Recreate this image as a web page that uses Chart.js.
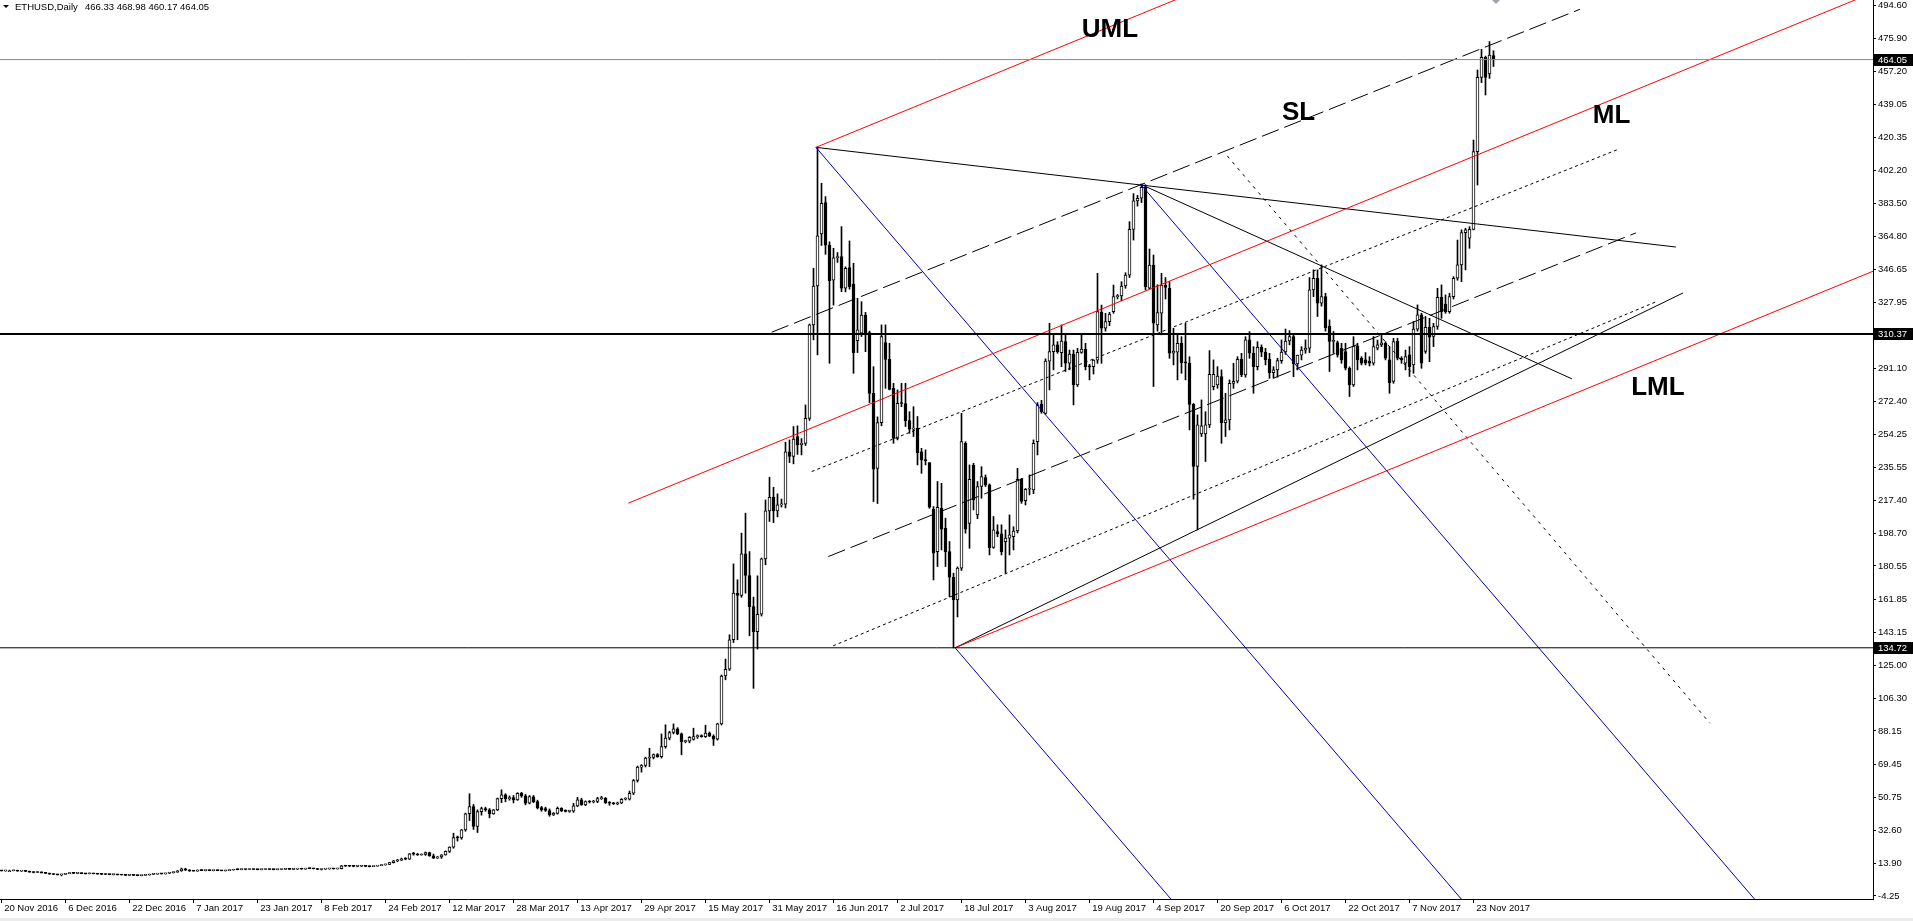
<!DOCTYPE html>
<html lang="en">
<head>
<meta charset="UTF-8">
<title>ETHUSD,Daily</title>
<script src="https://cdn.jsdelivr.net/npm/chart.js@4.4.3/dist/chart.umd.min.js"></script>
<style>
    * { margin: 0; padding: 0; }
    body { background: #fff; width: 1913px; height: 921px; overflow: hidden; }
    canvas { display: block; }
</style>
</head>
<body>
<canvas id="ethChart" width="1913" height="921"></canvas>
<script>
// daily candles [open, high, low, close], bar 0 = 20 Nov 2016
const nov16 = [[9.9,10.1,9.7,9.8],[9.8,10.0,9.6,9.9],[9.9,10.2,9.7,9.9],[9.9,10.3,9.8,10.0],[10.0,10.2,9.6,9.7],[9.7,10.0,9.5,9.8],[9.8,9.9,9.4,9.5],[9.5,9.7,9.0,9.1],[9.1,9.3,8.7,8.9],[8.9,9.4,8.8,9.2],[9.2,9.3,8.6,8.7]];
const dec16 = [[8.7,8.9,8.3,8.4],[8.4,8.6,7.9,8.0],[8.0,8.2,7.7,7.8],[7.8,8.0,7.5,7.6],[7.6,8.0,7.0,7.9],[7.9,8.4,7.8,8.3],[8.3,8.8,8.2,8.6],[8.6,8.8,8.3,8.4],[8.4,8.6,8.2,8.5],[8.5,8.7,8.2,8.3],[8.3,8.5,8.0,8.2],[8.2,8.6,8.1,8.4],[8.4,8.5,8.1,8.2],[8.2,8.3,7.9,8.0],[8.0,8.2,7.8,7.9],[7.9,8.1,7.7,7.8],[7.8,8.0,7.6,7.7],[7.7,7.9,7.5,7.8],[7.8,7.9,7.5,7.6],[7.6,7.8,7.4,7.5],[7.5,7.7,7.2,7.3],[7.3,7.6,7.1,7.4],[7.4,7.6,7.2,7.3],[7.3,7.5,7.1,7.2],[7.2,7.4,7.0,7.3],[7.3,7.6,7.2,7.5],[7.5,8.0,7.4,7.9],[7.9,8.2,7.7,8.0],[8.0,8.3,7.9,8.2],[8.2,8.4,8.0,8.1],[8.1,8.6,8.0,8.5]];
const jan17 = [[8.5,8.9,8.3,8.8],[8.8,9.2,8.6,9.1],[9.1,10.0,9.0,9.8],[9.8,11.4,9.6,10.9],[10.9,11.3,9.9,10.3],[10.3,10.5,9.5,9.8],[9.8,10.1,9.6,9.7],[9.7,10.4,9.6,10.3],[10.3,10.6,9.9,10.0],[10.0,10.3,9.8,10.2],[10.2,10.4,9.9,10.0],[10.0,10.2,9.8,10.1],[10.1,10.3,9.9,10.0],[10.0,10.2,9.8,9.9],[9.9,10.1,9.7,10.0],[10.0,10.4,9.9,10.3],[10.3,10.7,10.2,10.6],[10.6,10.8,10.4,10.5],[10.5,10.9,10.4,10.7],[10.7,10.8,10.4,10.6],[10.6,10.8,10.5,10.7],[10.7,10.9,10.5,10.6],[10.6,10.7,10.4,10.5],[10.5,10.7,10.4,10.6],[10.6,10.8,10.5,10.7],[10.7,10.9,10.5,10.6],[10.6,10.8,10.4,10.5],[10.5,10.7,10.4,10.6],[10.6,10.8,10.5,10.7],[10.7,10.9,10.6,10.8],[10.8,11.0,10.6,10.7]];
const feb17 = [[10.7,10.9,10.5,10.8],[10.8,11.0,10.6,10.9],[10.9,11.1,10.7,10.8],[10.8,11.3,10.7,11.2],[11.2,11.4,11.0,11.1],[11.1,11.3,10.9,11.0],[11.0,11.2,10.5,10.6],[10.6,10.9,10.3,10.8],[10.8,11.0,10.6,10.9],[10.9,11.1,10.7,11.0],[11.0,11.2,10.8,10.9],[10.9,11.1,10.8,11.0],[11.0,12.9,10.9,12.7],[12.7,12.9,12.3,12.5],[12.5,12.7,12.2,12.4],[12.4,12.6,12.1,12.3],[12.3,12.5,12.1,12.4],[12.4,12.6,12.2,12.5],[12.5,12.7,12.2,12.3],[12.3,12.5,12.0,12.2],[12.2,12.6,12.1,12.5],[12.5,12.9,12.4,12.8],[12.8,13.3,12.7,13.2],[13.2,13.6,13.0,13.4],[13.4,14.6,13.3,14.4],[14.4,15.6,14.2,15.5],[15.5,16.2,14.9,15.8],[15.8,17.0,15.6,16.6]];
const mar17 = [[16.6,17.2,16.0,16.4],[16.4,19.5,16.2,19.3],[19.3,20.2,18.6,19.2],[19.2,19.6,18.5,18.7],[18.7,19.3,18.6,19.0],[19.0,20.4,18.5,20.1],[20.1,20.3,18.0,18.2],[18.2,19.2,16.7,16.9],[16.9,18.0,16.8,17.6],[17.6,18.9,16.8,18.8],[18.8,21.0,18.6,20.7],[20.7,23.3,20.1,23.1],[23.1,30.9,22.5,28.5],[28.5,29.3,26.5,28.3],[28.3,33.0,27.5,32.8],[32.8,42.2,32.0,41.8],[41.8,53.0,38.0,45.8],[45.8,47.0,33.0,34.7],[34.7,44.0,31.3,43.0],[43.0,45.5,41.0,44.7],[44.7,45.5,43.2,43.9],[44.0,44.7,39.5,41.7],[41.7,44.2,41.5,44.0],[44.0,50.6,43.5,50.3],[50.3,55.2,48.0,52.4],[52.4,53.0,48.5,50.2],[50.2,51.8,49.4,50.9],[50.9,52.0,47.9,49.6],[49.6,53.6,49.3,53.3],[53.3,53.8,51.0,51.9],[51.9,52.6,46.8,47.7]];
const apr17 = [[47.7,52.0,47.3,51.4],[51.3,52.0,48.0,48.5],[48.6,49.4,44.5,45.0],[45.2,45.9,43.2,43.9],[44.7,45.5,43.1,43.6],[43.6,44.5,40.4,41.2],[41.2,42.5,40.8,42.0],[42.0,45.6,41.6,44.9],[44.9,45.2,43.0,43.4],[43.4,44.0,42.8,43.1],[43.1,43.8,42.6,43.2],[43.2,47.6,42.6,46.2],[46.2,51.0,45.8,49.6],[49.6,50.5,46.5,46.8],[46.8,49.0,46.3,48.6],[48.6,49.2,47.8,48.4],[48.4,49.3,47.9,48.7],[48.7,51.0,48.0,50.3],[50.3,51.6,49.8,50.5],[50.5,50.9,47.6,47.9],[47.9,48.6,46.5,47.7],[47.7,48.2,47.0,47.4],[47.4,48.3,46.8,47.8],[47.8,50.3,47.4,49.9],[49.9,50.8,49.5,50.0],[50.0,54.5,49.5,53.3],[53.3,61.0,52.5,60.4],[60.4,68.5,59.5,67.9],[67.9,69.3,65.1,68.8],[68.8,73.5,68.0,72.9]];
const may17 = [[73.0,78.5,68.2,73.4],[73.4,75.3,72.5,74.9],[74.9,75.5,73.4,73.7],[73.7,86.5,73.0,79.4],[79.4,91.6,78.5,84.1],[84.1,88.0,83.2,87.3],[87.3,92.1,86.5,89.3],[89.3,90.0,86.1,86.5],[86.5,87.0,74.8,82.2],[82.2,83.0,81.5,82.5],[82.5,85.0,81.5,84.6],[83.4,89.7,83.0,85.0],[85.0,86.0,84.0,85.2],[85.2,86.0,84.6,85.0],[85.0,91.4,84.5,87.0],[87.0,87.6,85.0,85.2],[85.2,86.0,80.0,83.5],[83.5,92.5,83.0,92.1],[92.1,119.5,91.5,118.9],[118.9,128.4,116.8,122.7],[122.7,142.0,122.0,139.2],[139.2,181.7,137.7,165.3],[165.3,172.8,139.2,164.0],[164.0,198.9,163.0,187.3],[187.3,210.1,165.3,175.2],[175.2,188.6,141.4,157.8],[157.8,163.1,112.0,143.8],[143.8,175.0,134.0,153.5],[153.5,185.0,152.5,184.5],[184.5,217.5,181.2,211.4],[211.4,230.2,205.4,219.0]];
const jun17 = [[219.0,224.6,204.8,211.4],[211.4,220.9,208.0,214.7],[214.7,218.0,213.5,215.1],[215.1,249.8,213.0,244.4],[244.4,251.1,238.4,241.8],[241.8,258.6,237.7,251.5],[253.0,259.0,243.0,248.3],[248.5,251.9,242.7,249.2],[249.2,270.7,248.0,263.2],[263.2,316.0,262.0,315.5],[315.5,347.2,307.1,337.3],[337.3,414.9,298.7,365.3],[366.4,394.8,360.0,383.6],[384.0,387.3,355.0,360.2],[360.2,362.0,294.0,340.3],[340.6,358.4,326.6,353.1],[353.1,356.0,350.5,353.7],[353.7,370.5,334.1,336.0],[336.0,348.0,334.0,347.2],[347.6,362.5,335.5,336.9],[338.4,350.0,288.4,300.0],[306.7,330.4,300.0,312.8],[310.8,328.5,309.0,321.0],[321.0,322.5,300.5,309.9],[311.2,312.0,272.0,277.2],[277.2,292.1,216.6,234.7],[235.2,264.0,215.5,260.8],[260.8,315.5,259.0,308.9],[305.6,315.5,280.0,296.2],[296.2,305.2,279.1,279.4]];
const jul17 = [[280.0,282.8,249.2,252.0],[252.0,279.1,251.1,271.6],[271.6,282.8,269.7,271.5],[271.5,282.8,258.6,261.9],[261.9,266.9,254.8,257.1],[257.1,269.7,253.0,257.6],[257.6,264.2,237.1,244.0],[244.5,246.4,232.4,239.9],[239.9,245.5,237.1,239.5],[238.4,238.4,212.8,213.4],[212.3,213.8,172.7,187.7],[188.6,227.8,180.2,213.4],[212.8,226.8,189.5,201.1],[201.6,207.3,180.2,188.6],[188.6,194.2,163.4,174.2],[174.2,176.5,134.7,161.5],[161.5,180.0,152.0,179.3],[179.3,266.0,178.0,250.2],[249.2,250.1,198.9,201.1],[204.4,237.1,190.4,229.1],[237.0,238.0,211.9,217.5],[209.1,227.8,207.0,225.0],[225.0,236.1,218.4,230.6],[230.0,231.5,225.0,225.9],[225.9,226.5,186.7,190.8],[190.9,208.2,190.4,200.7],[199.8,203.6,196.9,198.5],[198.5,203.6,186.7,188.6],[194.2,200.7,176.5,196.1],[196.1,209.1,186.7,197.9],[197.0,202.5,189.5,200.1]];
const aug17 = [[200.1,235.2,199.0,229.1],[229.1,229.6,215.6,216.6],[217.1,223.9,214.7,223.5],[223.5,231.5,220.3,224.0],[223.1,251.1,221.0,249.2],[250.1,272.0,242.7,270.7],[271.2,273.3,266.0,266.9],[266.0,296.5,265.5,295.3],[295.2,316.4,279.1,300.5],[300.5,309.9,290.3,304.3],[304.3,306.1,299.6,300.5],[299.9,315.5,292.1,306.5],[306.1,310.8,289.4,294.0],[294.0,301.4,290.3,299.2],[299.2,301.4,270.7,281.9],[281.9,302.4,281.0,300.1],[300.1,309.9,299.6,302.0],[301.8,305.2,290.3,292.1],[292.5,293.5,284.7,292.0],[292.1,296.0,288.0,295.8],[295.8,344.4,294.0,322.9],[322.5,326.6,294.0,313.6],[313.6,322.0,312.0,317.3],[317.3,322.5,315.0,321.6],[322.9,337.8,322.0,331.3],[331.3,332.5,330.0,331.7],[331.7,339.7,329.0,337.3],[337.3,344.7,336.0,343.4],[343.4,373.3,342.0,369.0],[369.0,389.0,363.0,384.9],[384.9,388.0,382.0,386.4]];
const sep17 = [[386.4,394.4,384.0,392.5],[392.5,394.0,335.0,336.9],[336.0,358.0,335.5,349.0],[349.0,354.6,281.0,316.4],[315.5,338.0,312.0,322.4],[322.0,344.4,309.9,337.8],[337.8,342.0,330.0,336.5],[336.0,339.7,296.8,299.6],[299.6,313.6,293.1,300.9],[300.2,310.8,284.7,305.2],[305.2,308.9,288.4,294.4],[294.4,316.4,284.7,294.2],[294.0,297.7,256.7,271.0],[271.0,271.5,217.9,236.2],[236.2,265.1,200.7,259.5],[254.5,273.5,253.0,259.0],[254.5,266.9,239.0,259.5],[259.5,301.1,258.0,287.8],[280.9,295.9,279.1,287.8],[281.9,292.1,280.0,286.9],[286.5,290.3,249.2,260.8],[260.8,277.2,253.0,262.3],[262.3,284.7,256.7,282.8],[282.8,294.0,280.0,283.9],[284.0,297.7,283.0,296.2],[296.2,299.6,286.5,287.5],[287.5,308.9,286.2,307.1],[307.1,311.7,296.8,299.6],[299.6,303.3,277.2,292.1],[292.1,306.1,290.3,302.9]];
const oct17 = [[302.9,304.3,297.7,300.2],[300.2,302.4,293.1,295.9],[296.2,299.6,285.6,288.8],[288.8,292.1,285.6,290.3],[290.3,296.8,286.2,295.5],[295.5,307.1,294.0,300.3],[300.3,313.2,299.0,306.5],[306.5,312.3,304.3,308.9],[308.9,309.9,286.5,293.6],[293.6,298.6,290.3,298.6],[298.6,303.3,295.9,301.4],[301.4,307.1,299.6,302.4],[302.4,342.0,300.0,335.1],[335.1,346.3,331.3,341.6],[341.6,346.3,320.2,327.6],[327.6,349.1,326.0,331.3],[331.3,333.2,312.0,314.0],[314.9,318.3,289.4,306.2],[306.2,311.8,299.6,306.8],[305.6,306.5,297.5,298.7],[302.4,305.2,294.0,295.9],[300.6,305.2,290.3,291.2],[291.2,292.0,275.4,281.9],[281.9,308.9,281.0,303.7],[303.7,305.2,290.3,295.9],[296.8,297.7,293.1,294.0],[296.0,300.0,293.1,294.0],[295.3,297.7,292.5,294.0],[294.0,309.0,293.0,303.4],[302.4,307.0,301.5,304.3],[304.3,309.9,303.3,305.5]];
const nov17 = [[305.2,306.1,295.9,296.8],[295.9,303.3,277.2,283.2],[283.8,308.0,282.8,306.2],[306.5,308.0,295.9,296.8],[296.8,297.7,294.0,295.9],[294.0,301.4,290.3,297.7],[298.7,303.3,286.6,292.1],[293.1,317.4,288.4,313.1],[313.1,326.7,312.0,321.1],[321.1,322.0,291.2,294.0],[300.6,320.2,299.6,314.2],[314.2,319.2,294.9,308.6],[309.0,316.4,303.3,314.6],[314.6,336.0,313.0,330.9],[330.9,337.9,319.2,322.9],[327.2,332.3,322.0,322.9],[322.9,333.2,322.0,331.3],[331.3,342.5,330.0,341.6],[341.6,363.0,340.5,349.1],[349.1,368.7,339.7,367.2],[367.2,369.6,346.3,368.7],[364.0,370.5,358.4,369.0],[369.0,419.0,368.7,412.5],[412.5,458.2,393.8,454.1],[454.1,469.8,451.1,465.3],[465.3,466.0,444.2,454.1],[456.0,474.1,453.5,466.6],[466.33,468.98,460.17,464.05]];

const dateTickBars = [0,16,32,48,64,80,96,112,128,144,160,176,192,208,224,240,256,272,288,304,320,336,352,368];
const dateLabels = ['20 Nov 2016','6 Dec 2016','22 Dec 2016','7 Jan 2017','23 Jan 2017','8 Feb 2017','24 Feb 2017','12 Mar 2017','28 Mar 2017','13 Apr 2017','29 Apr 2017','15 May 2017','31 May 2017','16 Jun 2017','2 Jul 2017','18 Jul 2017','3 Aug 2017','19 Aug 2017','4 Sep 2017','20 Sep 2017','6 Oct 2017','22 Oct 2017','7 Nov 2017','23 Nov 2017'];
const priceTicks = [494.60,475.90,457.20,439.05,420.35,402.20,383.50,364.80,346.65,327.95,291.10,272.40,254.25,235.55,217.40,198.70,180.55,161.85,143.15,125.00,106.30,88.15,69.45,50.75,32.60,13.90,-4.25];

const bidPrice = 464.05;
const resistance = 310.37;
const support = 134.72;
const titleValues = '466.33 468.98 460.17 464.05';

// drawn objects, [bar, price] end points
const medianLine = [[156.7,215.7],[470,503.5]];
const upperMedianLine = [[203.6,414.9],[300,503.5]];
const lowerMedianLine = [[238.4,134.7],[470,347.5]];
const slLine = [[192.55,311.4],[394.6,492.2]];
const midDashLine = [[206.7,185.8],[408.6,367.0]];
const upperDotLine = [[202.55,233.4],[404.4,414.0]];
const lowerDotLine = [[207.9,135.8],[413.6,328.4]];
const julyTrend = [[238.4,134.7],[420.4,333.4]];
const juneFan = [[203.6,414.9],[418.6,359.1]];
const septFan = [[284.8,394.2],[392.6,285.3]];
const handleJune = [[203.6,414.9],[366.5,-10]];
const handleSept = [[284.8,394.2],[439.8,-10]];
const handleJuly = [[238.4,134.7],[293.9,-10]];
const fallDotLine = [[306.45,410.1],[427.1,92.5]];

const notes = [['UML',277.1,476.9],['SL',324.25,430.2],['ML',402.5,428.4],['LML',414.1,276.3]];

const candles = [].concat(nov16, dec16, jan17, feb17, mar17, apr17, may17, jun17, jul17, aug17, sep17, oct17, nov17);

const X_MIN = -0.375, X_MAX = 467.875;
const Y_MIN = -5.93, Y_MAX = 497.40;
const FONT = '"Liberation Sans", Arial, sans-serif';

function seg(pts, color, dash, width) {
    return {
        type: 'line',
        data: pts.map(p => ({ x: p[0], y: p[1] })),
        borderColor: color,
        borderWidth: width || 1,
        borderDash: dash || [],
        pointRadius: 0,
        fill: false,
        tension: 0,
        order: 0
    };
}
function hline(price, color, width) {
    return seg([[X_MIN, price], [X_MAX, price]], color, [], width);
}

const RED = '#ff0000', BLUE = '#0000b4', BLACK = '#000000';

const overlay = {
    id: 'overlay',
    beforeDraw(chart) {
        const ctx = chart.ctx;
        ctx.save();
        ctx.fillStyle = '#fff';
        ctx.fillRect(0, 0, chart.width, chart.height);
        ctx.fillStyle = '#ececec';
        ctx.fillRect(0, 918, chart.width, 3);
        ctx.restore();
    },
    afterDatasetsDraw(chart) {
        const ctx = chart.ctx, xs = chart.scales.x, ys = chart.scales.y;
        ctx.save();
        ctx.fillStyle = '#000';
        ctx.font = 'bold 26px ' + FONT;
        ctx.textAlign = 'center';
        ctx.textBaseline = 'alphabetic';
        notes.forEach(n => ctx.fillText(n[0], xs.getPixelForValue(n[1]), ys.getPixelForValue(n[2])));
        ctx.restore();
    },
    afterDraw(chart) {
        const ctx = chart.ctx, ys = chart.scales.y, area = chart.chartArea;
        ctx.save();
        // price markers on the axis
        ctx.font = '9.5px ' + FONT;
        ctx.textBaseline = 'middle';
        ctx.textAlign = 'left';
        [bidPrice, resistance, support].forEach(v => {
            const y = Math.round(ys.getPixelForValue(v));
            ctx.fillStyle = '#000';
            ctx.fillRect(area.right + 1, y - 6, chart.width - area.right - 1, 12);
            ctx.fillStyle = '#fff';
            ctx.fillText(v.toFixed(2), area.right + 5, y + 0.5);
        });
        // title
        ctx.fillStyle = '#000';
        ctx.beginPath();
        ctx.moveTo(3, 5); ctx.lineTo(9, 5); ctx.lineTo(6, 8); ctx.closePath();
        ctx.fill();
        ctx.fillText('ETHUSD,Daily', 15, 7);
        ctx.fillText(titleValues, 85, 7);
        // chart shift marker
        ctx.fillStyle = '#a0a4ac';
        ctx.beginPath();
        ctx.moveTo(1492, 0); ctx.lineTo(1500, 0); ctx.lineTo(1496, 4); ctx.closePath();
        ctx.fill();
        ctx.restore();
    }
};

const chart = new Chart(document.getElementById('ethChart'), {
    type: 'bar',
    data: {
        datasets: [
            {
                data: candles.map((c, i) => ({ x: i, y: [c[2], c[1]] })),
                backgroundColor: '#000',
                borderWidth: 0,
                barThickness: 1,
                grouped: false,
                order: 2
            },
            {
                data: candles.map((c, i) => ({ x: i, y: [c[0], c[3]] })),
                backgroundColor: ctx => {
                    const c = candles[ctx.dataIndex];
                    return c && c[3] >= c[0] ? '#ffffff' : '#000000';
                },
                borderColor: '#000',
                borderWidth: 1,
                borderSkipped: false,
                barThickness: 3,
                minBarLength: 1,
                grouped: false,
                order: 1
            },
            hline(bidPrice, '#7f8a99', 1),
            hline(resistance, BLACK, 2),
            hline(support, BLACK, 1),
            seg(medianLine, RED),
            seg(upperMedianLine, RED),
            seg(lowerMedianLine, RED),
            seg(handleJune, BLUE),
            seg(handleSept, BLUE),
            seg(handleJuly, BLUE),
            seg(slLine, BLACK, [18, 6]),
            seg(midDashLine, BLACK, [18, 6]),
            seg(upperDotLine, BLACK, [3, 3]),
            seg(lowerDotLine, BLACK, [3, 3]),
            seg(fallDotLine, BLACK, [3, 5]),
            seg(julyTrend, BLACK),
            seg(juneFan, BLACK),
            seg(septFan, BLACK)
        ]
    },
    options: {
        responsive: false,
        animation: false,
        events: [],
        layout: { padding: 0 },
        plugins: { legend: { display: false }, tooltip: { enabled: false } },
        scales: {
            x: {
                type: 'linear',
                min: X_MIN,
                max: X_MAX,
                offset: false,
                grid: { display: true, offset: false, drawOnChartArea: false, drawTicks: true, tickLength: 4, color: '#000' },
                border: { display: true, color: '#000', width: 1 },
                afterBuildTicks: s => { s.ticks = dateTickBars.map(v => ({ value: v })); },
                afterFit: s => { s.height = 22; s.paddingLeft = 0; s.paddingRight = 0; },
                ticks: {
                    autoSkip: false,
                    maxRotation: 0,
                    minRotation: 0,
                    align: 'start',
                    padding: 0,
                    color: '#000',
                    font: { family: FONT, size: 9.5 },
                    callback: (v, idx) => ' ' + dateLabels[idx]
                }
            },
            y: {
                type: 'linear',
                position: 'right',
                min: Y_MIN,
                max: Y_MAX,
                grid: { display: true, drawOnChartArea: false, drawTicks: true, tickLength: 3, color: '#000' },
                border: { display: true, color: '#000', width: 1 },
                afterBuildTicks: s => { s.ticks = priceTicks.map(v => ({ value: v })); },
                afterFit: s => { s.width = 40; s.paddingTop = 0; s.paddingBottom = 0; },
                ticks: {
                    autoSkip: false,
                    padding: 2,
                    color: '#000',
                    font: { family: FONT, size: 9.5 },
                    callback: v => v.toFixed(2)
                }
            }
        }
    },
    plugins: [overlay]
});
</script>
</body>
</html>
